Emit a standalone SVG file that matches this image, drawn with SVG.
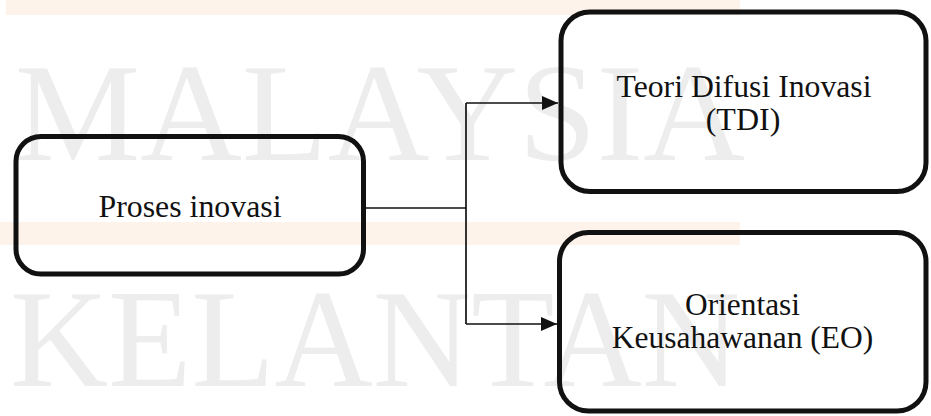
<svg xmlns="http://www.w3.org/2000/svg" width="931" height="416" viewBox="0 0 931 416">
  <style>
    .box { fill: none; stroke: #111; stroke-width: 5; }
    .nodetext { font-size: 32px; fill: #111; text-anchor: middle; }
    .wm { font-family: "Liberation Serif", "Times New Roman", serif; font-size: 140px; fill: #ededed; }
    .band { fill: #fdf3ea; }
    .conn { fill: none; stroke: #111; stroke-width: 1.7; }
  </style>
  <defs>
    <marker id="arrow" viewBox="0 0 16 14" refX="16" refY="7" markerWidth="16" markerHeight="14" markerUnits="userSpaceOnUse" orient="auto">
      <path d="M0,0 L16,7 L0,14 Z" fill="#111"/>
    </marker>
  </defs>

  <rect width="931" height="416" fill="#ffffff"/>

  <!-- background bands and lettering -->
  <g id="background">
    <rect class="band" x="6" y="0" width="734" height="15"/>
    <rect class="band" x="0" y="222" width="740" height="23"/>
    <text class="wm" x="15" y="160" textLength="730" lengthAdjust="spacingAndGlyphs">MALAYSIA</text>
    <text class="wm" x="10" y="386" textLength="730" lengthAdjust="spacingAndGlyphs">KELANTAN</text>
  </g>

  <!-- connectors -->
  <g id="connectors">
    <path class="conn" d="M366,208 H466"/>
    <path class="conn" d="M466,103 V324"/>
    <path class="conn" d="M466,103 H558" marker-end="url(#arrow)"/>
    <path class="conn" d="M466,324 H557" marker-end="url(#arrow)"/>
  </g>

  <g id="proses-inovasi">
    <rect class="box" x="16" y="136.5" width="347.5" height="137.5" rx="25" ry="25"/>
    <text class="nodetext" style="font-family:'Liberation Serif',serif" x="190" y="216.5" textLength="183" lengthAdjust="spacingAndGlyphs">Proses inovasi</text>
  </g>

  <g id="teori-difusi-inovasi">
    <rect class="box" x="561" y="12" width="365" height="179.5" rx="29" ry="29"/>
    <text class="nodetext" style="font-family:'Liberation Serif',serif" x="744" y="96.5" textLength="255" lengthAdjust="spacingAndGlyphs">Teori Difusi Inovasi</text>
    <text class="nodetext" style="font-family:'Liberation Serif',serif" x="743" y="130">(TDI)</text>
  </g>

  <g id="orientasi-keusahawanan">
    <rect class="box" x="559.5" y="232.5" width="366.5" height="178.5" rx="29" ry="29"/>
    <text class="nodetext" style="font-family:'Liberation Serif',serif" x="742.5" y="315" textLength="115" lengthAdjust="spacingAndGlyphs">Orientasi</text>
    <text class="nodetext" style="font-family:'Liberation Serif',serif" x="742.5" y="347.5" textLength="261.5" lengthAdjust="spacingAndGlyphs">Keusahawanan (EO)</text>
  </g>
</svg>
